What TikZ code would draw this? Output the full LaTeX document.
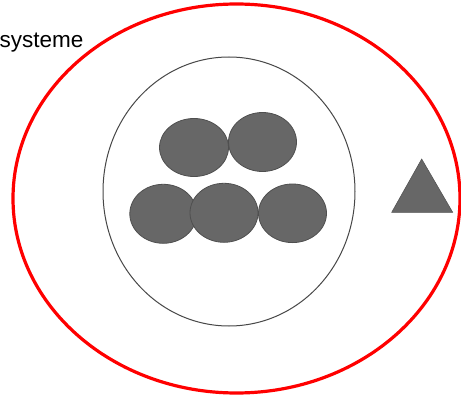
\documentclass[tikz,border=0pt]{standalone}
\usepackage{fontspec}
\setmainfont{Liberation Sans}
\begin{document}
\begin{tikzpicture}[x=1pt,y=-1pt,
  cell/.style={fill=cellgray,draw=celledge,line width=0.8pt},
  shell/.style={draw=red,line width=3.2pt},
  core/.style={draw=coregray,line width=1pt}]
\definecolor{cellgray}{HTML}{676767}
\definecolor{celledge}{HTML}{4F4F4F}
\definecolor{coregray}{HTML}{474747}
\useasboundingbox (0,0) rectangle (461,396);
\fill[white] (0,0) rectangle (461,396);
% outer red ellipse
\draw[shell] (236.5,198.5) ellipse [x radius=223.5, y radius=194.5];
% inner circle
\draw[core] (229,191.5) ellipse [x radius=126, y radius=134.5];
% cells
\draw[cell] (194,147.5) ellipse [x radius=34.5, y radius=29];
\draw[cell] (262.5,142) ellipse [x radius=34, y radius=29.5];
\draw[cell] (163.3,213.8) ellipse [x radius=33.5, y radius=29.5];
\draw[cell] (224,212.8) ellipse [x radius=34, y radius=29.5];
\draw[cell] (292.5,213.3) ellipse [x radius=34, y radius=29.3];
% triangle
\draw[cell,line width=0.5pt,line join=miter] (421.7,159) -- (452.7,212.3) -- (391.7,212.3) -- cycle;
% label
\node[anchor=base west,inner sep=0pt,font=\fontsize{22.5}{26}\selectfont] (label) at (-0.5,47.7) {systeme};
\end{tikzpicture}
\end{document}
